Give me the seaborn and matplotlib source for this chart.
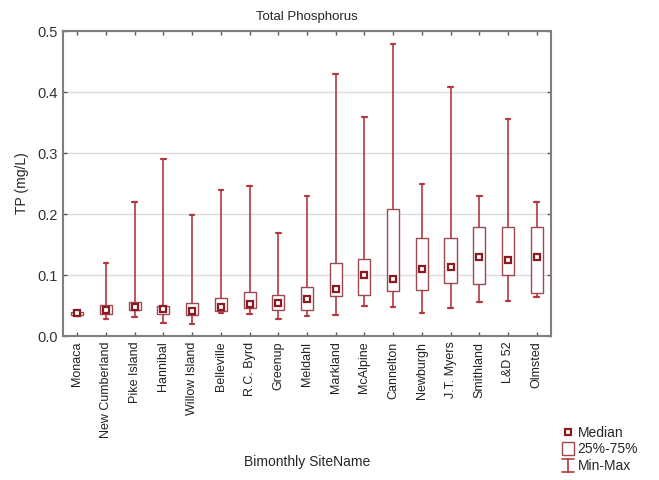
import numpy as np
import pandas as pd
import matplotlib
matplotlib.use("Agg")
import matplotlib.pyplot as plt
from matplotlib.lines import Line2D
from matplotlib.patches import Rectangle
from matplotlib.legend_handler import HandlerBase
import seaborn as sns

sites = ["Monaca", "New Cumberland", "Pike Island", "Hannibal", "Willow Island",
         "Belleville", "R.C. Byrd", "Greenup", "Meldahl", "Markland", "McAlpine",
         "Cannelton", "Newburgh", "J.T. Myers", "Smithland", "L&D 52", "Olmsted"]

tp_min = [0.033, 0.028, 0.031, 0.021, 0.020, 0.037, 0.036, 0.028, 0.033, 0.034,
          0.050, 0.048, 0.037, 0.046, 0.055, 0.058, 0.064]
tp_q1 = [0.034, 0.036, 0.043, 0.036, 0.034, 0.041, 0.046, 0.043, 0.043, 0.065,
         0.067, 0.073, 0.075, 0.087, 0.085, 0.100, 0.070]
tp_median = [0.037, 0.043, 0.048, 0.044, 0.041, 0.048, 0.053, 0.054, 0.060, 0.077,
             0.100, 0.093, 0.110, 0.114, 0.130, 0.125, 0.130]
tp_q3 = [0.040, 0.051, 0.055, 0.050, 0.054, 0.063, 0.072, 0.068, 0.081, 0.119,
         0.126, 0.209, 0.160, 0.160, 0.179, 0.179, 0.179]
tp_max = [0.041, 0.119, 0.219, 0.290, 0.199, 0.239, 0.246, 0.169, 0.230, 0.430,
          0.360, 0.479, 0.249, 0.409, 0.230, 0.356, 0.219]

# Five-number summary per site; with whiskers at 0-100 % the box spans q1..q3
rows = []
for i, s in enumerate(sites):
    for v in (tp_min[i], tp_q1[i], tp_median[i], tp_q3[i], tp_max[i]):
        rows.append({"site": s, "tp": v})
df = pd.DataFrame(rows)
med_df = pd.DataFrame({"site": sites, "tp": tp_median})

BOX_C = "#9c4a50"
WHISK_C = "#b5383e"
MED_C = "#8b1a22"
SPINE_C = "#7f7f7f"

sns.set_style("white")
plt.rcParams["font.family"] = ["Liberation Sans", "DejaVu Sans"]

fig = plt.figure(figsize=(6.59, 4.80), dpi=100)
ax = fig.add_axes([0.0956, 0.300, 0.7405, 0.635])

sns.boxplot(data=df, x="site", y="tp", order=sites, whis=(0, 100), width=0.42,
            color="white", linecolor=BOX_C, linewidth=1.0, ax=ax,
            whiskerprops={"color": WHISK_C, "linewidth": 1.2},
            capprops={"color": WHISK_C, "linewidth": 1.6},
            medianprops={"linewidth": 0, "alpha": 0})

# narrow caps on the min/max whiskers
for cap in ax.lines:
    xd = cap.get_xdata()
    if len(xd) == 2 and cap.get_color() == WHISK_C and xd[0] != xd[1]:
        c = (xd[0] + xd[1]) / 2
        cap.set_xdata([c - 0.08, c + 0.08])

sns.pointplot(data=med_df, x="site", y="tp", order=sites, linestyle="none",
              marker="s", markersize=5, markeredgewidth=1.6,
              markerfacecolor="white", markeredgecolor=MED_C, color=MED_C,
              errorbar=None, ax=ax, zorder=5)

ax.set_xlim(-0.5, len(sites) - 0.5)
ax.set_ylim(0, 0.5)
yt = np.arange(0, 0.51, 0.1)
ax.set_yticks(yt)
ax.set_yticklabels([f"{v:.1f}" for v in yt], fontsize=10.5, color="#333333")
ax.set_xticks(range(len(sites)))
ax.set_xticklabels(sites, rotation=90, fontsize=9, color="#222222")
ax.yaxis.grid(True, color="#dcdcdc", linewidth=1.0)
ax.set_axisbelow(True)

ax.tick_params(axis="both", direction="in", length=3, width=1.0, color="#555555",
               top=True, right=True, bottom=True, left=True, pad=4)
for sp in ax.spines.values():
    sp.set_color(SPINE_C)
    sp.set_linewidth(1.5)

ax.set_title("Total Phosphorus", fontsize=9.5, pad=8)
ax.set_ylabel("TP (mg/L)", fontsize=10, labelpad=6)
ax.set_xlabel("Bimonthly SiteName", fontsize=10, labelpad=12)


class MinMaxHandler(HandlerBase):
    def create_artists(self, legend, orig_handle, xdescent, ydescent, width,
                       height, fontsize, trans):
        cx = width / 2 - xdescent
        y0, y1 = -ydescent - 1, height - ydescent + 1
        arts = [Line2D([cx, cx], [y0, y1], color=WHISK_C, lw=1.2),
                Line2D([cx - 4, cx + 4], [y0, y0], color=WHISK_C, lw=1.2),
                Line2D([cx - 4, cx + 4], [y1, y1], color=WHISK_C, lw=1.2)]
        for a in arts:
            a.set_transform(trans)
        return arts


class BoxHandler(HandlerBase):
    def create_artists(self, legend, orig_handle, xdescent, ydescent, width,
                       height, fontsize, trans):
        cx = width / 2 - xdescent
        r = Rectangle((cx - 4, -ydescent - 1.5), 8, height + 3, facecolor="white",
                      edgecolor=BOX_C, lw=1.0, transform=trans)
        return [r]


class BoxKey:
    pass


class MinMaxKey:
    pass


h_med = Line2D([], [], linestyle="none", marker="s", markersize=5,
               markeredgewidth=1.6, markerfacecolor="white", markeredgecolor=MED_C)
fig.legend([h_med, BoxKey(), MinMaxKey()], ["Median", "25%-75%", "Min-Max"],
           handler_map={BoxKey: BoxHandler(), MinMaxKey: MinMaxHandler()},
           loc="upper left", bbox_to_anchor=(0.845, 0.125),
           bbox_transform=fig.transFigure, frameon=False, fontsize=10,
           handlelength=0.8, handletextpad=0.3, labelspacing=0.2,
           borderaxespad=0)

fig.savefig("out.png", dpi=100)
